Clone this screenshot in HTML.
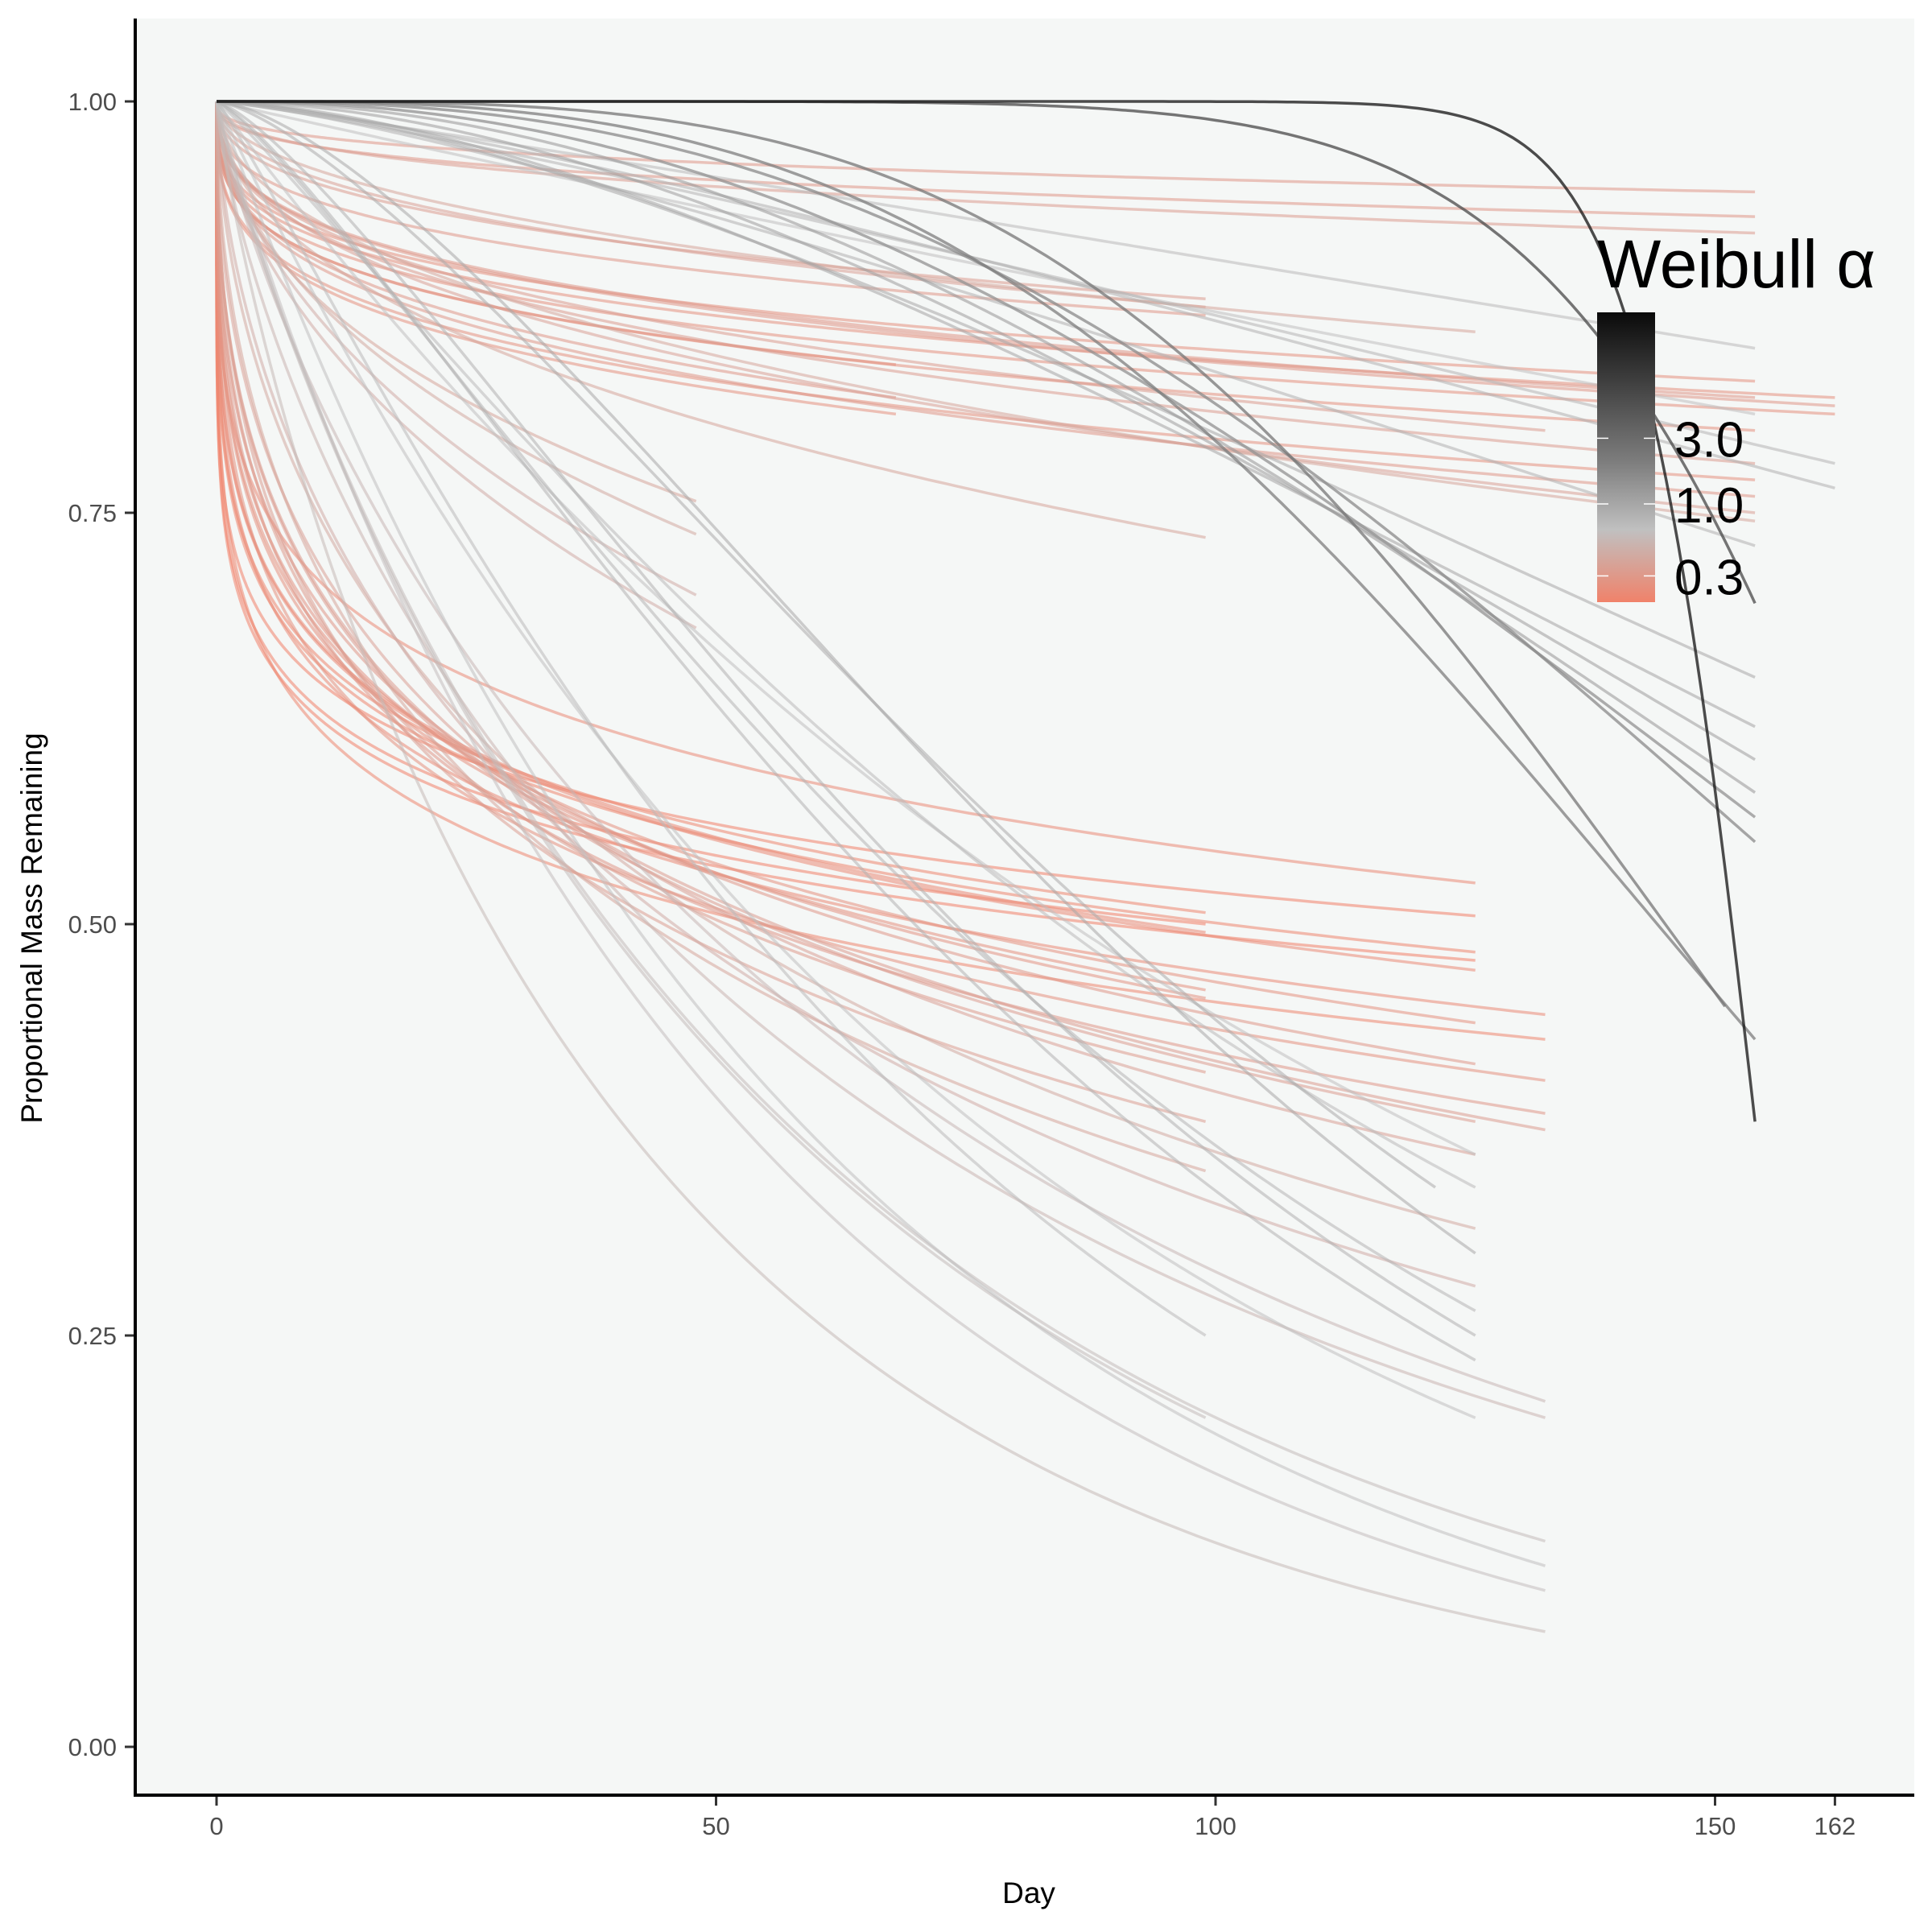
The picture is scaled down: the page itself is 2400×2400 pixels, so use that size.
<!DOCTYPE html>
<html><head><meta charset="utf-8">
<style>
html,body{margin:0;padding:0;background:#fff;}
svg{display:block;}
text{font-family:"Liberation Sans",sans-serif;}
</style></head>
<body>
<svg id="chart" width="2400" height="2400" viewBox="0 0 2400 2400" xmlns="http://www.w3.org/2000/svg">
<defs>
<linearGradient id="cbar" x1="0" y1="1" x2="0" y2="0">
<stop offset="0" stop-color="#F0826A"/>
<stop offset="0.25" stop-color="#C0C0C0"/>
<stop offset="0.48" stop-color="#7E7E7E"/>
<stop offset="1" stop-color="#0A0A0A"/>
</linearGradient>
</defs>
<rect x="168" y="23" width="2210" height="2205" fill="#F5F7F6"/>
<g id="lines"></g>
<line x1="168" y1="23" x2="168" y2="2230" stroke="#000" stroke-width="4"/>
<line x1="166" y1="2230" x2="2378" y2="2230" stroke="#000" stroke-width="4"/>
<g id="yticks"></g>
<g id="xticks"></g>
<text x="1278" y="2364" font-size="37" text-anchor="middle" fill="#000">Day</text>
<text x="52" y="1153" font-size="37" text-anchor="middle" fill="#000" transform="rotate(-90 52 1153)">Proportional Mass Remaining</text>
<g>
<text x="1984" y="357" font-size="84" fill="#000">Weibull α</text>
<rect x="1984" y="388" width="72" height="360" fill="url(#cbar)"/>
<g id="legticks"></g>
</g>
</svg>
<script>
// Curve data: Weibull shape (alpha), final day, final mass remaining
const alphas = [0.35,0.35,0.4, 0.3,0.35,0.3, 0.3,0.35,0.3,0.4,0.3,0.35,0.45,0.5, 0.4,0.45,0.35,0.5, 0.3,0.35,0.3, 0.5,0.55,0.6,0.6, 0.5,0.4,
 0.25,0.18,0.22,0.18,0.25,0.3,0.35,0.4,0.45,0.55,0.6, 0.22,0.18,0.25,0.3,0.32,0.38,0.42,0.5, 0.25,0.22,0.3,0.35,0.4,
 0.8,0.75,0.9,1.0,0.95,0.85, 0.9, 1.1,1.2,1.3,1.25,1.0,1.0,1.4,1.5,1.1,
 1.3,1.6,1.8,2.0,2.2,2.5,1.5,1.2,1.3,1.1,1.0, 3.5,3.0,8,22];
const endDays = [154,154,154, 162,162,162, 154,154,154,154,154,154,154,154, 99,99,99,99, 68,68,68, 48,48,48,48, 126,133,
 126,126,126,126,126,126,126,126,126,126,126, 99,99,99,99,99,99,99,99, 133,133,133,133,133,
 133,133,133,133,133,133, 99, 126,126,126,126,126,126,122,126,99,
 154,154,154,154,154,154,154,162,162,154,154, 151,154,154,154];
const endMass = [0.945,0.93,0.92, 0.82,0.815,0.81, 0.83,0.82,0.80,0.78,0.77,0.76,0.75,0.745, 0.88,0.875,0.87,0.735, 0.84,0.82,0.81, 0.757,0.737,0.70,0.68, 0.86,0.80,
 0.525,0.505,0.483,0.478,0.472,0.44,0.415,0.38,0.36,0.315,0.28, 0.507,0.50,0.495,0.46,0.455,0.41,0.38,0.35, 0.445,0.43,0.405,0.385,0.375,
 0.21,0.20,0.125,0.11,0.095,0.07, 0.20, 0.34,0.265,0.25,0.235,0.20,0.36,0.34,0.30,0.25,
 0.73,0.62,0.60,0.58,0.565,0.55,0.65,0.78,0.765,0.85,0.81, 0.45,0.43,0.695,0.38];
const xTicks = [0,50,100,150,162];
const yTicks = [0,0.25,0.5,0.75,1.0];
const yTickLabels = ["0.00","0.25","0.50","0.75","1.00"];
const legendVals = [0.3,1.0,3.0];
const legendLabels = ["0.3","1.0","3.0"];

const NS="http://www.w3.org/2000/svg";
function xs(t){return 269 + t*12.41;}
function ys(v){return 2170 - v*2044;}
function legY(a){return 626 - Math.log10(a)*171;}
function colorFor(a){
  const stops=[[0.2,[240,130,106]],[1,[192,192,192]],[3,[126,126,126]],[25,[10,10,10]]];
  const la=Math.log(Math.max(0.2,Math.min(25,a)));
  for(let i=0;i<stops.length-1;i++){
    const l0=Math.log(stops[i][0]),l1=Math.log(stops[i+1][0]);
    if(la<=l1){const f=(la-l0)/(l1-l0);
      const c=stops[i][1].map((v,k)=>Math.round(v+(stops[i+1][1][k]-v)*f));
      return `rgb(${c[0]},${c[1]},${c[2]})`;}
  }
  return "rgb(10,10,10)";
}
const g=document.getElementById('lines');
const order=alphas.map((a,i)=>i).sort((i,j)=>alphas[i]-alphas[j]);
order.forEach(i=>{
  const a=alphas[i], T=endDays[i], m=endMass[i];
  const beta=T/Math.pow(-Math.log(m),1/a);
  const N=260; let d="";
  for(let k=0;k<=N;k++){
    const t=T*Math.pow(k/N,a<1?3:1);
    const v=Math.exp(-Math.pow(t/beta,a));
    d+=(k?"L":"M")+xs(t).toFixed(1)+","+ys(v).toFixed(1);
  }
  const p=document.createElementNS(NS,'path');
  p.setAttribute('d',d);
  p.setAttribute('fill','none');
  p.setAttribute('stroke',colorFor(a));
  p.setAttribute('stroke-width','3.5');
  p.setAttribute('stroke-opacity',a>2?'0.75':'0.55');
  
  
  g.appendChild(p);
});
const yt=document.getElementById('yticks');
yTicks.forEach((v,i)=>{
  const l=document.createElementNS(NS,'line');
  l.setAttribute('x1',155);l.setAttribute('x2',166);
  l.setAttribute('y1',ys(v));l.setAttribute('y2',ys(v));
  l.setAttribute('stroke','#333');l.setAttribute('stroke-width','3');
  
  
  yt.appendChild(l);
  const t=document.createElementNS(NS,'text');
  t.setAttribute('x',145);t.setAttribute('y',ys(v)+11);
  t.setAttribute('text-anchor','end');t.setAttribute('font-size','31');t.setAttribute('fill','#4d4d4d');
  t.textContent=yTickLabels[i];
  
  
  yt.appendChild(t);
});
const xt=document.getElementById('xticks');
xTicks.forEach(v=>{
  const l=document.createElementNS(NS,'line');
  l.setAttribute('x1',xs(v));l.setAttribute('x2',xs(v));
  l.setAttribute('y1',2232);l.setAttribute('y2',2243);
  l.setAttribute('stroke','#333');l.setAttribute('stroke-width','3');
  
  
  xt.appendChild(l);
  const t=document.createElementNS(NS,'text');
  t.setAttribute('x',xs(v));t.setAttribute('y',2279);
  t.setAttribute('text-anchor','middle');t.setAttribute('font-size','31');t.setAttribute('fill','#4d4d4d');
  t.textContent=String(v);
  
  
  xt.appendChild(t);
});
const lt=document.getElementById('legticks');
legendVals.forEach((v,i)=>{
  const y=legY(v);
  [[1984,1998],[2042,2056]].forEach(s=>{
    const l=document.createElementNS(NS,'line');
    l.setAttribute('x1',s[0]);l.setAttribute('x2',s[1]);l.setAttribute('y1',y);l.setAttribute('y2',y);
    l.setAttribute('stroke','#fff');l.setAttribute('stroke-width','1.5');
    
    
    lt.appendChild(l);
  });
  const t=document.createElementNS(NS,'text');
  t.setAttribute('x',2080);t.setAttribute('y',y+23);
  t.setAttribute('font-size','62');t.setAttribute('fill','#000');
  t.textContent=legendLabels[i];
  
  
  lt.appendChild(t);
});
</script>
</body></html>
